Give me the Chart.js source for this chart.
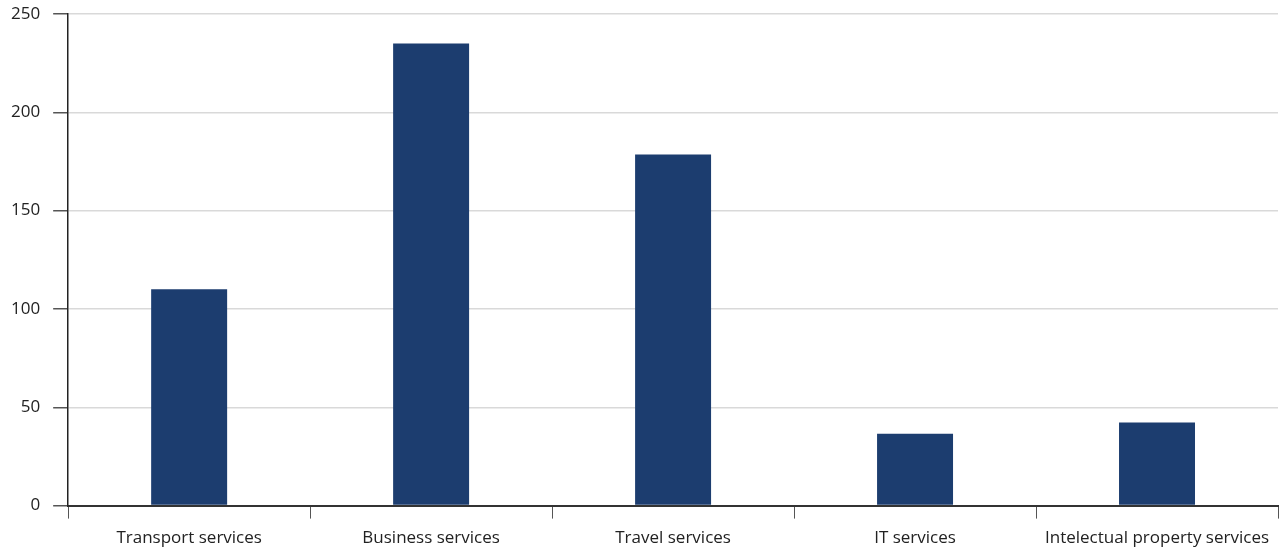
<!DOCTYPE html>
<html>
<head>
<meta charset="utf-8">
<script src="https://cdn.jsdelivr.net/npm/chart.js@4"></script>
<style>
  html, body { margin: 0; padding: 0; background: #fff; }
  #wrap { width: 1282px; height: 548px; }
</style>
</head>
<body>
<div id="wrap"><canvas id="bar-chart"></canvas></div>
<script>
const categories = ["Transport services", "Business services", "Travel services", "IT services", "Intelectual property services"];
const values = [110, 235, 178.5, 36.5, 42.2];
const yTicks = [0, 50, 100, 150, 200, 250];

Chart.defaults.font.family = "'Open Sans', 'DejaVu Sans', sans-serif";
Chart.defaults.font.size = 17;
Chart.defaults.color = "#222";

new Chart(document.querySelector("#bar-chart"), {
  type: "bar",
  data: {
    labels: categories,
    datasets: [{
      data: values,
      backgroundColor: "#1c3d6f",
      borderWidth: 0,
      barPercentage: 0.314,
      categoryPercentage: 1,
    }],
  },
  options: {
    responsive: true,
    maintainAspectRatio: false,
    animation: false,
    layout: { padding: { top: 14, right: 4, left: -2, bottom: -9 } },
    plugins: {
      legend: { display: false },
      tooltip: { enabled: false },
    },
    scales: {
      x: {
        offset: true,
        grid: {
          offset: true,
          drawOnChartArea: true,
          color: (ctx) => ctx.index === categories.length ? "#d9d9d9" : "rgba(0,0,0,0)",
          tickColor: "#555",
          tickLength: 13,
        },
        border: { color: "#333", width: 2 },
        ticks: { padding: 9, maxRotation: 0, autoSkip: false },
      },
      y: {
        min: 0,
        max: 250,
        afterBuildTicks: (axis) => { axis.ticks = yTicks.map((v) => ({ value: v })); },
        afterFit: (axis) => { axis.paddingTop = 0; },
        grid: {
          color: "#d9d9d9",
          lineWidth: 1.5,
          tickColor: "#555",
          tickLength: 15,
        },
        border: { color: "#222", width: 1.5 },
        ticks: { padding: 13 },
      },
    },
  },
});
</script>
</body>
</html>
